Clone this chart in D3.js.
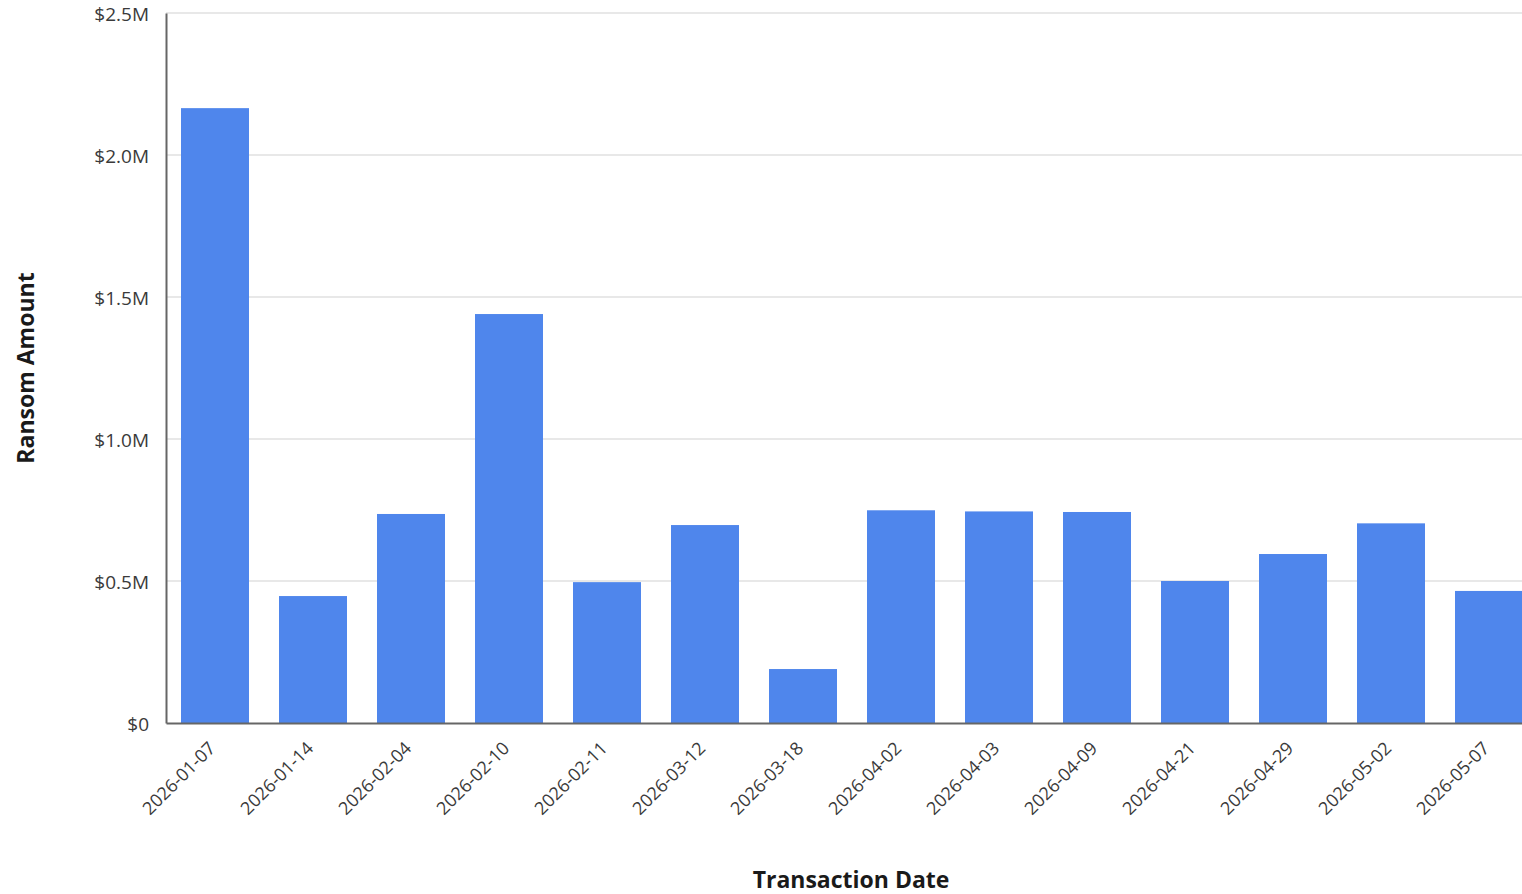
<!DOCTYPE html>
<html>
<head>
<meta charset="utf-8">
<script src="https://cdn.jsdelivr.net/npm/d3@7"></script>
<style>
  html, body { margin: 0; padding: 0; background: #fff; overflow: hidden; }
  svg { display: block; font-family: "Open Sans", sans-serif; }
</style>
</head>
<body>
<svg id="chart" width="1522" height="894"></svg>
<script>
const categories = ["2026-01-07","2026-01-14","2026-02-04","2026-02-10","2026-02-11","2026-03-12","2026-03-18","2026-04-02","2026-04-03","2026-04-09","2026-04-21","2026-04-29","2026-05-02","2026-05-07"];
const values = [2165000, 447000, 736000, 1440000, 496000, 697000, 190000, 749000, 745000, 743000, 500000, 595000, 703000, 465000];
const yTicks = [0, 500000, 1000000, 1500000, 2000000, 2500000];
const yTickLabels = ["$0", "$0.5M", "$1.0M", "$1.5M", "$2.0M", "$2.5M"];

const svg = d3.select("#chart");
const plotLeft = 166, plotRight = 1538, plotTop = 13, plotBottom = 723;

const x = d3.scaleBand().domain(categories).range([plotLeft, plotRight]).paddingInner(30/98).paddingOuter(15/98);
const y = d3.scaleLinear().domain([0, 2500000]).range([plotBottom, plotTop]);

// gridlines
svg.append("g").selectAll("line").data(yTicks.filter(d => d > 0)).join("line")
  .attr("x1", plotLeft).attr("x2", 1522)
  .attr("y1", d => y(d)).attr("y2", d => y(d))
  .attr("stroke", "#e8e8e8").attr("stroke-width", 2);

// bars
svg.append("g").selectAll("rect").data(values).join("rect")
  .attr("x", (d, i) => x(categories[i]))
  .attr("width", x.bandwidth())
  .attr("y", d => y(d))
  .attr("height", d => plotBottom - y(d))
  .attr("fill", "#4f86ec");

// y axis
const yAxis = svg.append("g").attr("transform", `translate(${plotLeft},0)`)
  .call(d3.axisLeft(y).tickValues(yTicks).tickFormat((d, i) => yTickLabels[i]).tickSize(0).tickPadding(17));
yAxis.select(".domain").attr("stroke", "#666").attr("stroke-width", 2);
yAxis.selectAll("text").attr("font-size", 19).attr("fill", "#3a3a3a").attr("font-family", "Open Sans")
  .attr("dy", "0.4em");

// x axis
const xAxis = svg.append("g").attr("transform", `translate(0,${plotBottom})`)
  .call(d3.axisBottom(x).tickSize(0).tickPadding(0));
xAxis.select(".domain").attr("stroke", "#666").attr("stroke-width", 2);
xAxis.selectAll("text")
  .attr("font-size", 18).attr("fill", "#3a3a3a").attr("font-family", "Open Sans")
  .attr("text-anchor", "end")
  .attr("y", 0)
  .attr("dy", "0.35em")
  .attr("transform", "translate(-3,22) rotate(-45)");

// axis titles
svg.append("text").attr("x", 851).attr("y", 888).attr("text-anchor", "middle")
  .attr("font-size", 23).attr("font-weight", "bold").attr("fill", "#1a1a1a")
  .text("Transaction Date");
svg.append("text").attr("transform", "translate(34,368) rotate(-90)").attr("text-anchor", "middle")
  .attr("font-size", 23).attr("font-weight", "bold").attr("fill", "#1a1a1a")
  .text("Ransom Amount");
</script>
</body>
</html>
